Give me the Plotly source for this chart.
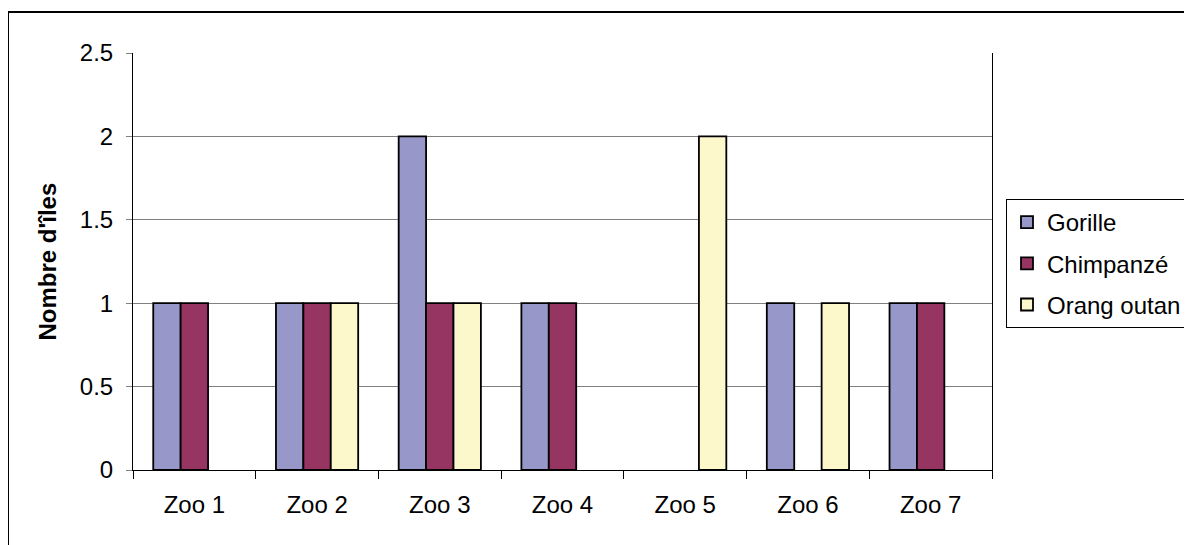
import plotly.graph_objects as go

categories = ["Zoo 1", "Zoo 2", "Zoo 3", "Zoo 4", "Zoo 5", "Zoo 6", "Zoo 7"]
gorille = [1, 1, 2, 1, 0, 1, 1]
chimpanze = [1, 1, 1, 1, 0, 0, 1]
orang_outan = [0, 1, 1, 0, 2, 1, 0]
y_ticks = [0, 0.5, 1, 1.5, 2, 2.5]
y_tick_labels = ["0", "0.5", "1", "1.5", "2", "2.5"]

FONT = "Arial, Liberation Sans, sans-serif"
FS = 24

series = [
    ("Gorille", gorille, "#9797C9"),
    ("Chimpanzé", chimpanze, "#963462"),
    ("Orang outan", orang_outan, "#FCF8CC"),
]

fig = go.Figure()
for i, (name, vals, color) in enumerate(series):
    fig.add_trace(go.Bar(
        x=categories, y=[v if v else None for v in vals], name=name, legendgroup=f"g{i}",
        marker=dict(color=color, line=dict(color="#000000", width=1.8)),
    ))

# page offset (body margin) of 8px
OFF = 8
W, H = 1192 - OFF, 545 - OFF
# target plot area in page pixels: x 133-992, y 53-470
L, T = 133 - OFF, 53 - OFF
R = W - (992 - OFF)
B = H - (470 - OFF)
pw, ph = W - L - R, H - T - B

def px2paper_x(px):
    return (px - OFF - L) / pw

def px2paper_y(py):
    return (H - B - (py - OFF)) / ph

fig.update_layout(
    width=W, height=H,
    margin=dict(l=L, r=R, t=T, b=B, pad=0),
    paper_bgcolor="white", plot_bgcolor="white",
    font=dict(family=FONT, size=FS, color="black"),
    barmode="group", bargap=0.33, bargroupgap=0,
    showlegend=True,
    legend=dict(
        xref="container", yref="container",
        x=(1006 - OFF) / W, y=1 - (199 - OFF) / H, xanchor="left", yanchor="top",
        bordercolor="black", borderwidth=1, bgcolor="white",
        font=dict(family=FONT, size=FS), tracegroupgap=7,
        traceorder="grouped",
    ),
    xaxis=dict(
        showline=True, linecolor="black", linewidth=1,
        ticks="outside", tickson="boundaries", ticklen=8, tickcolor="black",
        showgrid=False, tickfont=dict(family=FONT, size=FS),
        ticklabelstandoff=13,
    ),
    yaxis=dict(
        range=[0, 2.5], tickvals=y_ticks, ticktext=y_tick_labels,
        showline=True, linecolor="black", linewidth=1, mirror=True,
        ticks="outside", ticklen=6, tickcolor="#808080",
        showgrid=True, gridcolor="#808080", gridwidth=1,
        zeroline=False, tickfont=dict(family=FONT, size=FS),
        ticklabelstandoff=8,
    ),
    shapes=[
        dict(type="line", xref="paper", yref="paper",
             x0=px2paper_x(8), x1=px2paper_x(1300), y0=px2paper_y(12), y1=px2paper_y(12),
             line=dict(color="black", width=2)),
        dict(type="line", xref="paper", yref="paper",
             x0=px2paper_x(8), x1=px2paper_x(8), y0=px2paper_y(12), y1=px2paper_y(600),
             line=dict(color="black", width=2)),
    ],
    annotations=[
        dict(text="<b>Nombre d'îles</b>", textangle=-90, xref="paper", yref="paper",
             x=px2paper_x(47), y=0.5, xanchor="center", yanchor="middle",
             showarrow=False, font=dict(family=FONT, size=FS)),
    ],
)

fig.write_html("out.html")
